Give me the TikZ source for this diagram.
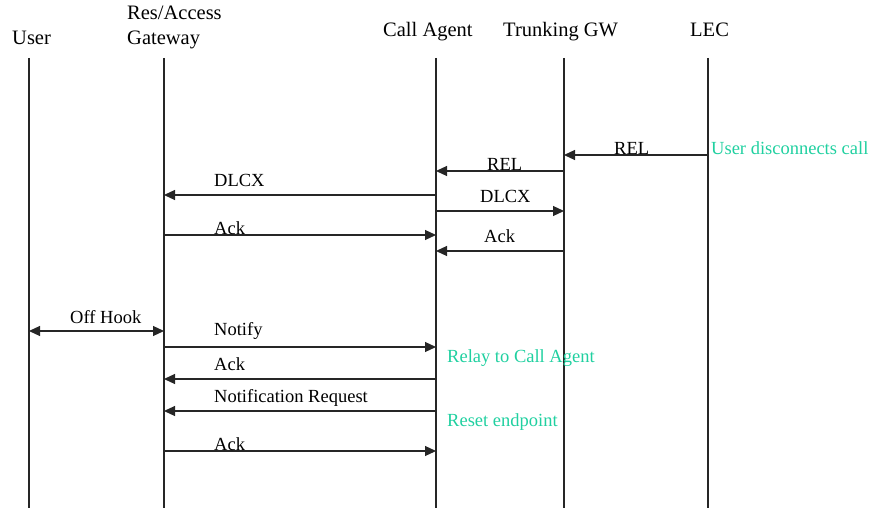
\documentclass[tikz,border=0pt]{standalone}
\usepackage{fontspec}
\setmainfont{Liberation Serif}
\usetikzlibrary{arrows.meta}
\definecolor{notegreen}{RGB}{32,208,160}
\begin{document}
\begin{tikzpicture}[x=1pt,y=1pt,
  lifeline/.style={line width=1.2pt,draw=black!85},
  msg/.style={line width=1.1pt,draw=black!85,-{Triangle[length=11pt,width=10pt]}},
  msgboth/.style={line width=1.1pt,draw=black!85,{Triangle[length=11pt,width=10pt]}-{Triangle[length=11pt,width=10pt]}},
  head/.style={inner sep=0pt,anchor=base west,font=\fontsize{20.5}{24}\selectfont},
  lbl/.style={inner sep=0pt,anchor=base west,font=\fontsize{18.5}{22}\selectfont},
  note/.style={lbl,text=notegreen}]
\useasboundingbox (0,0) rectangle (875,-508);

% lifeline positions
\coordinate (user) at (29,-58);
\coordinate (res)  at (164,-58);
\coordinate (ca)   at (436,-58);
\coordinate (tgw)  at (564,-58);
\coordinate (lec)  at (708,-58);

% participant names
\node[head] (hUser) at (12,-45) {User};
\node[head] (hRes1) at (127,-20) {Res/Access};
\node[head] (hRes2) at (127,-45) {Gateway};
\node[head] (hCA)   at (383,-37) {Call Agent};
\node[head] (hTGW)  at (503,-37) {Trunking GW};
\node[head] (hLEC)  at (690,-37) {LEC};

% lifelines
\foreach \p in {user,res,ca,tgw,lec}
  \draw[lifeline] (\p) -- (\p |- 0,-508);

% release sequence
\draw[msg] (lec |- 0,-155) -- (tgw |- 0,-155);
\node[lbl] (mRel1) at (614,-154) {REL};
\draw[msg] (tgw |- 0,-171) -- (ca |- 0,-171);
\node[lbl] (mRel2) at (487,-170) {REL};
\draw[msg] (ca |- 0,-195) -- (res |- 0,-195);
\node[lbl] (mDlcx1) at (214,-186) {DLCX};
\draw[msg] (ca |- 0,-211) -- (tgw |- 0,-211);
\node[lbl] (mDlcx2) at (480,-202) {DLCX};
\draw[msg] (res |- 0,-235) -- (ca |- 0,-235);
\node[lbl] (mAck1) at (214,-234) {Ack};
\draw[msg] (tgw |- 0,-251) -- (ca |- 0,-251);
\node[lbl] (mAck2) at (484,-242) {Ack};

% off-hook sequence
\draw[msgboth] (user |- 0,-331) -- (res |- 0,-331);
\node[lbl] (mOff) at (70,-323) {Off Hook};
\draw[msg] (res |- 0,-347) -- (ca |- 0,-347);
\node[lbl] (mNotify) at (214,-335) {Notify};
\draw[msg] (ca |- 0,-379) -- (res |- 0,-379);
\node[lbl] (mAck3) at (214,-370) {Ack};
\draw[msg] (ca |- 0,-411) -- (res |- 0,-411);
\node[lbl] (mRqnt) at (214,-402) {Notification Request};
\draw[msg] (res |- 0,-451) -- (ca |- 0,-451);
\node[lbl] (mAck4) at (214,-450) {Ack};

% annotations
\node[note] (nDisc)  at (711,-154) {User disconnects call};
\node[note] (nRelay) at (447,-362) {Relay to Call Agent};
\node[note] (nReset) at (447,-426) {Reset endpoint};
\end{tikzpicture}
\end{document}
